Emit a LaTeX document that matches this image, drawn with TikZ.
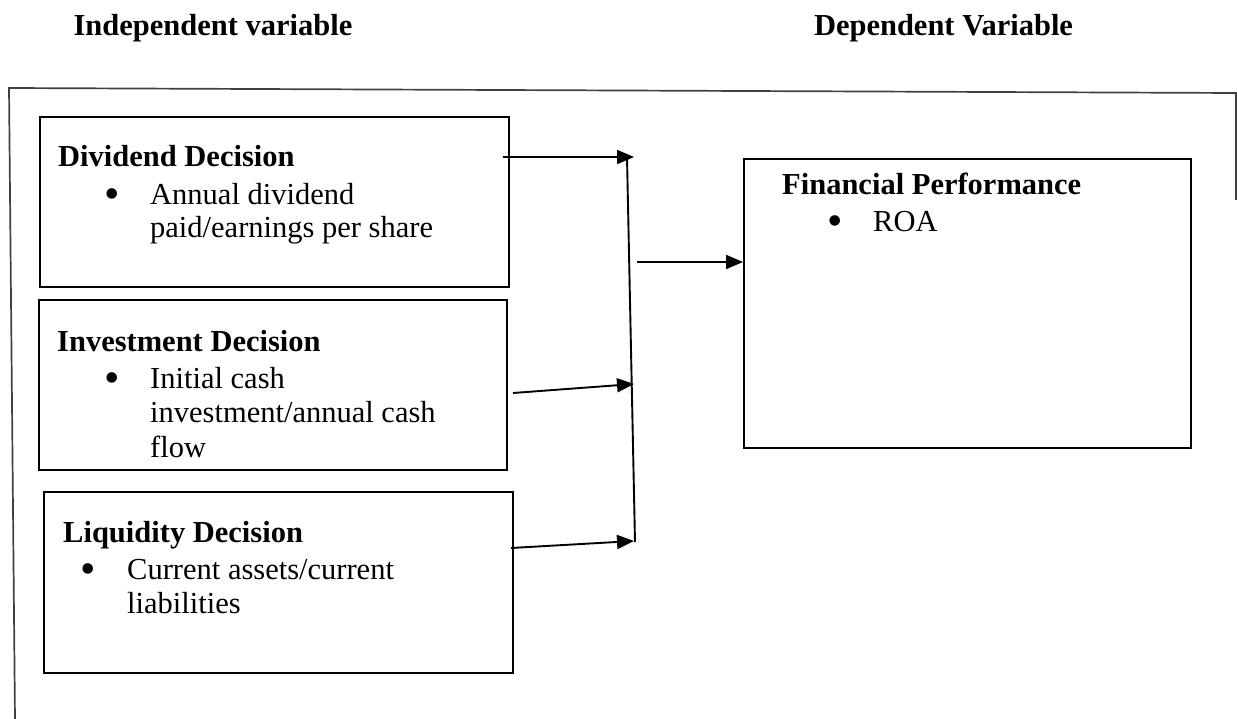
\documentclass[tikz,border=0pt]{standalone}
\usepackage{fontspec}
\setmainfont{Liberation Serif}
\usetikzlibrary{arrows.meta}
\begin{document}
\begin{tikzpicture}[x=1pt,y=-1pt,
  txt/.style={anchor=base west,inner sep=0pt,font=\fontsize{30.5}{33}\selectfont},
  hdr/.style={txt,font=\fontsize{30.5}{33}\selectfont\bfseries},
  bul/.style={anchor=base,inner sep=0pt,font=\fontsize{44}{33}\selectfont},
  boxx/.style={draw,line width=2pt,inner sep=0pt},
  arr/.style={line width=1.9pt,-{Triangle[length=17pt,width=14pt]}}]
\useasboundingbox (0,0) rectangle (1237,719);
% titles
\node[anchor=base,inner sep=0pt,font=\fontsize{30.5}{33}\selectfont\bfseries] (t1) at (213,36) {Independent variable};
\node[anchor=base,inner sep=0pt,font=\fontsize{30.5}{33}\selectfont\bfseries] (t2) at (943.5,36) {Dependent Variable};
% outer frame
\draw[line width=1.7pt,black!75] (15,719) -- (9,88) -- (1236,93) -- (1236,200);
% boxes
\node[boxx,minimum width=469pt,minimum height=170pt] (div) at (274.5,202) {};
\node[boxx,minimum width=468pt,minimum height=170pt] (inv) at (273,385) {};
\node[boxx,minimum width=469pt,minimum height=181pt] (liq) at (278.5,582.5) {};
\node[boxx,minimum width=447pt,minimum height=289pt] (fin) at (967.5,303.5) {};
% texts
\node[hdr] (divh) at (58,167) {Dividend Decision};
\node[bul] (divb) at (112,209) {•};
\node[txt] (div1) at (150,205) {Annual dividend};
\node[txt] (div2) at (150,238) {paid/earnings per share};
\node[hdr] (invh) at (57,352) {Investment Decision};
\node[bul] (invb) at (112,392) {•};
\node[txt] (inv1) at (150,388) {Initial cash};
\node[txt] (inv2) at (150,422) {investment/annual cash};
\node[txt] (inv3) at (150,457) {flow};
\node[hdr] (liqh) at (63,542) {Liquidity Decision};
\node[bul] (liqb) at (88,583) {•};
\node[txt] (liq1) at (127,579) {Current assets/current};
\node[txt] (liq2) at (127,613) {liabilities};
\node[hdr] (finh) at (782,195) {Financial Performance};
\node[bul] (finb) at (835,236) {•};
\node[txt] (fin1) at (873,232) {ROA};
% connectors
\coordinate (j1) at (634,157);
\coordinate (j2) at (634,384);
\coordinate (j3) at (634,541);
\coordinate (vtop) at (627,157);
\coordinate (vbot) at (635,542);
\coordinate (s1) at (503,157);
\coordinate (s2) at (513,393);
\coordinate (s3) at (511,548);
\coordinate (sm) at (637,262);
\draw[line width=1.9pt] (vtop) -- (vbot);
\draw[arr] (s1) -- (j1);
\draw[arr] (s2) -- (j2);
\draw[arr] (s3) -- (j3);
\draw[arr] (sm) -- (sm -| fin.west);
\end{tikzpicture}
\end{document}
